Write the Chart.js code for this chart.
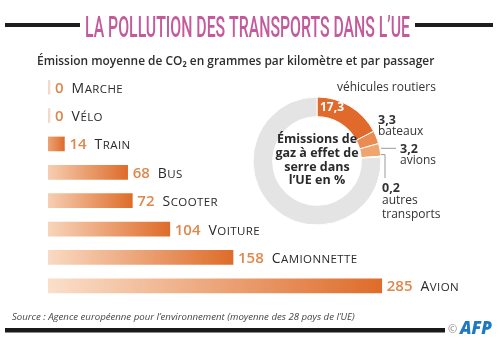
<!DOCTYPE html>
<html>
<head>
<meta charset="utf-8">
<style>
    body { margin: 0; background: #fff; }
    #wrap { position: relative; width: 500px; height: 347px; }
    #ghgChart { position: absolute; left: 240px; top: 70px; }
</style>
</head>
<body>
<div id="wrap">
    <canvas id="barChart" width="500" height="347"></canvas>
    <canvas id="ghgChart" width="260" height="165"></canvas>
</div>
<script src="https://cdn.jsdelivr.net/npm/chart.js"></script>
<script>
    // CO2 par km et par passager (g)
    const modes = ['Marche', 'Vélo', 'Train', 'Bus', 'Scooter', 'Voiture', 'Camionnette', 'Avion'];
    const emissions = [0, 0, 14, 68, 72, 104, 158, 285];

    // part des émissions de GES dans l'UE (%)
    const ghgLabels = ['véhicules routiers', 'bateaux', 'avions', 'autres transports', 'autres secteurs'];
    const ghgShares = [17.3, 3.3, 3.2, 0.2, 76];
    const ghgColors = ['#e1692b', '#ea8b52', '#f1a56e', '#f7d29f', '#e4e4e4'];

    const titleText = 'LA POLLUTION DES TRANSPORTS DANS L’UE';
    const subtitleText = 'Émission moyenne de CO₂ en grammes par kilomètre et par passager';
    const sourceText = 'Source : Agence européenne pour l’environnement (moyenne des 28 pays de l’UE)';
    const centerLines = ['Émissions de', 'gaz à effet de', 'serre dans', 'l’UE en %'];

    Chart.defaults.font.family = '"Open Sans", sans-serif';

    const fr = v => String(v).replace('.', ',');

    // font size so that text fills a given width
    function fitSize(c, text, weight, family, width) {
        c.font = weight + ' 20px ' + family;
        return 20 * width / c.measureText(text).width;
    }

    function barFill(ctx) {
        const chart = ctx.chart;
        if (!chart.chartArea) return '#df6e2c';
        const v = ctx.raw;
        if (!v) return '#f1dac8';
        const xs = chart.scales.x;
        const x0 = xs.getPixelForValue(0);
        const x1 = xs.getPixelForValue(v);
        const g = chart.ctx.createLinearGradient(x0 - 20, 0, x1, 0);
        g.addColorStop(0, '#fce6d3');
        g.addColorStop(1, '#de6c2a');
        return g;
    }

    const barLabels = {
        id: 'barLabels',
        afterDatasetsDraw(chart) {
            const c = chart.ctx;
            const meta = chart.getDatasetMeta(0);
            c.save();
            c.textBaseline = 'alphabetic';
            c.textAlign = 'left';
            meta.data.forEach((bar, i) => {
                let x = bar.x + 5;
                const y = bar.y + 5.5;
                c.font = '600 15px "Open Sans"';
                c.fillStyle = '#e0874c';
                const num = String(emissions[i]);
                c.fillText(num, x, y);
                x += c.measureText(num).width + 8;
                // petites capitales
                const name = modes[i];
                c.fillStyle = '#2b2b2b';
                c.font = '500 14px "Open Sans"';
                c.fillText(name[0], x, y);
                x += c.measureText(name[0]).width + 0.5;
                c.font = '500 11.5px "Open Sans"';
                for (const ch of name.slice(1).toUpperCase()) {
                    c.fillText(ch, x, y);
                    x += c.measureText(ch).width + 0.4;
                }
            });
            c.restore();
        }
    };

    const decor = {
        id: 'decor',
        beforeDraw(chart) {
            const c = chart.ctx;
            c.save();
            c.fillStyle = '#fff';
            c.fillRect(0, 0, chart.width, chart.height);
            c.restore();
        },
        afterDraw(chart) {
            const c = chart.ctx;
            c.save();
            c.textAlign = 'left';
            c.textBaseline = 'alphabetic';

            // titre condensé
            c.fillStyle = '#1e1e1e';
            c.fillRect(5, 23, 75, 4);
            c.fillRect(415, 23, 78, 4);
            c.font = '500 30px Roboto';
            const sx = 325 / c.measureText(titleText).width;
            c.translate(85, 37);
            c.scale(sx, 1);
            c.fillStyle = '#c45a9b';
            c.fillText(titleText, 0, 0);
            c.setTransform(1, 0, 0, 1, 0, 0);

            let s = fitSize(c, subtitleText, '600', '"Open Sans"', 398);
            c.font = '600 ' + s + 'px "Open Sans"';
            c.fillStyle = '#2e2e2e';
            c.fillText(subtitleText, 37, 64.5);

            s = fitSize(c, sourceText, 'italic 400', '"Open Sans"', 343);
            c.font = 'italic 400 ' + s + 'px "Open Sans"';
            c.fillStyle = '#454545';
            c.fillText(sourceText, 12, 320);

            c.fillStyle = '#1a1a1a';
            c.fillRect(5, 328, 440, 4.5);
            c.font = '400 11px "Open Sans"';
            c.fillStyle = '#8a8a8a';
            c.fillText('©', 448, 333);
            s = fitSize(c, 'AFP', 'italic 800', '"Open Sans"', 32);
            c.font = 'italic 800 ' + s + 'px "Open Sans"';
            c.fillStyle = '#1f78c1';
            c.fillText('AFP', 460, 334);
            c.restore();
        }
    };

    new Chart(document.getElementById('barChart'), {
        type: 'bar',
        data: {
            labels: modes,
            datasets: [{
                data: emissions,
                backgroundColor: barFill,
                borderWidth: 0,
                barThickness: 14,
                minBarLength: 2
            }]
        },
        options: {
            indexAxis: 'y',
            responsive: false,
            animation: false,
            layout: { padding: { left: 48, right: 7, top: 73, bottom: 47 } },
            scales: {
                x: { display: false, min: 0, max: 380 },
                y: { display: false }
            },
            plugins: { legend: { display: false }, tooltip: { enabled: false } }
        },
        plugins: [decor, barLabels]
    });

    const ghgText = {
        id: 'ghgText',
        afterDraw(chart) {
            const c = chart.ctx;
            const arcs = chart.getDatasetMeta(0).data;
            const cx = arcs[0].x, cy = arcs[0].y, r = arcs[0].outerRadius;
            const edge = a => {
                const m = (a.startAngle + a.endAngle) / 2;
                return [cx + r * Math.cos(m), cy + r * Math.sin(m)];
            };
            c.save();
            c.textBaseline = 'middle';

            c.textAlign = 'center';
            c.fillStyle = '#2a2a2a';
            c.font = '700 12.5px "Open Sans"';
            [-22, -8, 6, 19].forEach((dy, i) => c.fillText(centerLines[i], cx, cy + dy));

            c.fillStyle = '#fff';
            c.font = '700 12px "Open Sans"';
            c.fillText(fr(ghgShares[0]), cx + 15, cy - 53);

            c.textAlign = 'left';
            c.fillStyle = '#333';
            c.font = '400 12px "Open Sans"';
            c.fillText(ghgLabels[0], cx + 20, cy - 73);
            c.fillText(ghgLabels[1], cx + 61, cy - 29);
            c.fillText(ghgLabels[2], cx + 83, cy);
            c.fillText('autres', cx + 65, cy + 40);
            c.fillText('transports', cx + 65, cy + 54);

            c.font = '700 12.5px "Open Sans"';
            c.fillText(fr(ghgShares[1]), cx + 61, cy - 41);
            c.fillText(fr(ghgShares[2]), cx + 83, cy - 12);
            c.fillText(fr(ghgShares[3]), cx + 65, cy + 27);

            // traits de rappel
            c.strokeStyle = '#9a9a9a';
            c.lineWidth = 1;
            let [ex, ey] = edge(arcs[2]);
            c.beginPath();
            c.moveTo(ex + 1, ey - 1.5);
            c.lineTo(cx + 79, ey - 1.5);
            c.stroke();
            [ex, ey] = edge(arcs[3]);
            c.beginPath();
            c.moveTo(ex, ey - 2);
            c.lineTo(cx + 68, ey - 2);
            c.lineTo(cx + 68, cy + 17);
            c.stroke();
            c.restore();
        }
    };

    new Chart(document.getElementById('ghgChart'), {
        type: 'doughnut',
        data: {
            labels: ghgLabels,
            datasets: [{
                data: ghgShares,
                backgroundColor: ghgColors,
                borderColor: '#fff',
                borderWidth: 1,
                hoverOffset: 0
            }]
        },
        options: {
            responsive: false,
            animation: false,
            radius: 64,
            cutout: 44,
            layout: { padding: { left: 13, top: 27, right: 119, bottom: 10 } },
            plugins: { legend: { display: false }, tooltip: { enabled: false } }
        },
        plugins: [ghgText]
    });
</script>
</body>
</html>
